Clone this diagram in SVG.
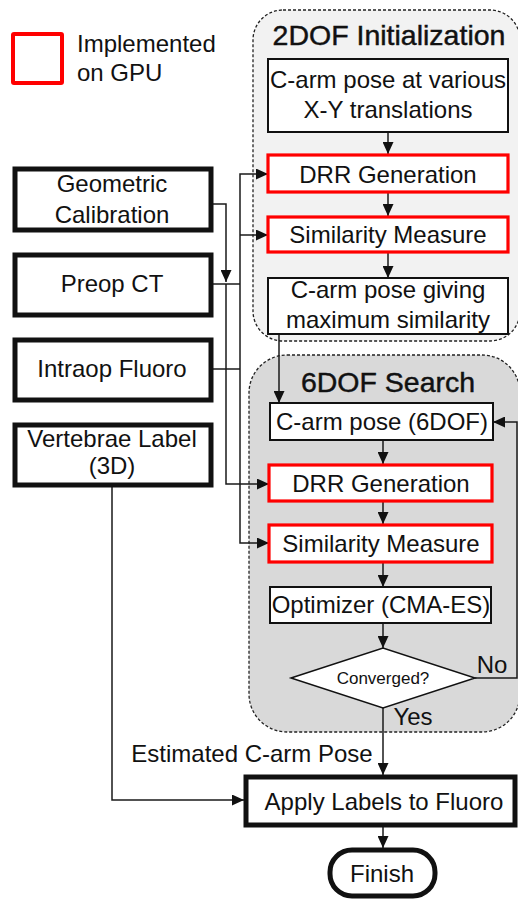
<svg xmlns="http://www.w3.org/2000/svg" width="518" height="900" viewBox="0 0 518 900">
<defs>
<style>
text{font-family:"Liberation Sans",Arial,sans-serif;font-size:24px;fill:#111;text-anchor:middle}
.title{font-size:28.5px;stroke:#111;stroke-width:0.45}
.grp{stroke:#222;stroke-width:1.3;stroke-dasharray:3,2}
.thin{fill:#fff;stroke:#111;stroke-width:2}
.red{fill:#fff;stroke:#ff0000;stroke-width:3.2}
.thick{fill:#fff;stroke:#111;stroke-width:5}
.wire{fill:none;stroke:#1a1a1a;stroke-width:1.5}
</style>
<marker id="ah" markerUnits="userSpaceOnUse" markerWidth="12" markerHeight="11" refX="12" refY="5.5" orient="auto">
<path d="M0,0 L12,5.5 L0,11 z" fill="#111"/>
</marker>
</defs>
<rect width="518" height="900" fill="#fff"/>

<g id="legend">
<rect x="13" y="34" width="49" height="49" fill="#fff" stroke="#ff0000" stroke-width="4" rx="1"/>
<text x="77" y="52" style="text-anchor:start">Implemented</text>
<text x="77" y="81" style="text-anchor:start">on GPU</text>
</g>

<g id="group-2dof">
<rect class="grp" x="253" y="10" width="267" height="331" rx="30" fill="#f2f2f2"/>
<text class="title" x="389" y="45">2DOF Initialization</text>
</g>
<g id="group-6dof">
<rect class="grp" x="249" y="355" width="271" height="377" rx="38" fill="#d9d9d9"/>
<text class="title" x="388" y="392">6DOF Search</text>
</g>

<g id="connectors">
<path class="wire" d="M211,204 H226 V282" marker-end="url(#ah)"/>
<path class="wire" d="M226,284 V484 H269" marker-end="url(#ah)"/>
<path class="wire" d="M211,284 H240"/>
<path class="wire" d="M211,369 H240"/>
<path class="wire" d="M240,284 V174 H268" marker-end="url(#ah)"/>
<path class="wire" d="M240,235 H268" marker-end="url(#ah)"/>
<path class="wire" d="M240,284 V543 H269" marker-end="url(#ah)"/>
<path class="wire" d="M112,485 V800 H244" marker-end="url(#ah)"/>
<path class="wire" d="M388,132 V154" marker-end="url(#ah)"/>
<path class="wire" d="M388,192 V216" marker-end="url(#ah)"/>
<path class="wire" d="M388,252 V278" marker-end="url(#ah)"/>
<path class="wire" d="M279,334 V403" marker-end="url(#ah)"/>
<path class="wire" d="M383,440 V464" marker-end="url(#ah)"/>
<path class="wire" d="M383,501 V524" marker-end="url(#ah)"/>
<path class="wire" d="M383,562 V587" marker-end="url(#ah)"/>
<path class="wire" d="M383,623 V648" marker-end="url(#ah)"/>
<path class="wire" d="M475,678 H517 V422 H493" marker-end="url(#ah)"/>
<path class="wire" d="M383,708 V775" marker-end="url(#ah)"/>
<path class="wire" d="M383,827 V848" marker-end="url(#ah)"/>
<text x="492" y="673">No</text>
<text x="413" y="725">Yes</text>
<text x="252" y="762">Estimated C-arm Pose</text>
</g>

<g id="geometric-calibration">
<rect class="thick" x="15" y="169" width="196" height="61"/>
<text x="112" y="192">Geometric</text>
<text x="112" y="223">Calibration</text>
</g>
<g id="preop-ct">
<rect class="thick" x="15" y="255" width="196" height="60"/>
<text x="112" y="292">Preop CT</text>
</g>
<g id="intraop-fluoro">
<rect class="thick" x="15" y="340" width="196" height="60"/>
<text x="112" y="377">Intraop Fluoro</text>
</g>
<g id="vertebrae-label">
<rect class="thick" x="15" y="425" width="196" height="60"/>
<text x="112" y="447">Vertebrae Label</text>
<text x="112" y="474">(3D)</text>
</g>

<g id="pose-various">
<rect class="thin" x="268" y="59" width="240" height="73"/>
<text x="388" y="88">C-arm pose at various</text>
<text x="388" y="118">X-Y translations</text>
</g>
<g id="drr-2dof">
<rect class="red" x="268" y="155" width="240" height="37"/>
<text x="388" y="183">DRR Generation</text>
</g>
<g id="sim-2dof">
<rect class="red" x="268" y="217" width="240" height="35"/>
<text x="388" y="243">Similarity Measure</text>
</g>
<g id="pose-max">
<rect class="thin" x="268" y="278" width="240" height="56"/>
<text x="388" y="298">C-arm pose giving</text>
<text x="388" y="328">maximum similarity</text>
</g>

<g id="pose-6dof">
<rect class="thin" x="270" y="403" width="223" height="37"/>
<text x="382" y="430">C-arm pose (6DOF)</text>
</g>
<g id="drr-6dof">
<rect class="red" x="269" y="465" width="223" height="36"/>
<text x="381" y="492">DRR Generation</text>
</g>
<g id="sim-6dof">
<rect class="red" x="269" y="525" width="223" height="37"/>
<text x="381" y="552">Similarity Measure</text>
</g>
<g id="optimizer">
<rect class="thin" x="270" y="587" width="221" height="36"/>
<text x="381" y="613">Optimizer (CMA-ES)</text>
</g>
<g id="converged">
<path d="M291,678 L383,648 L475,678 L383,708 z" fill="#fff" stroke="#111" stroke-width="1.5"/>
<text x="383" y="684" style="font-size:17px">Converged?</text>
</g>

<g id="apply-labels">
<rect class="thick" x="246" y="777" width="269" height="48"/>
<text x="384" y="810">Apply Labels to Fluoro</text>
</g>
<g id="finish">
<rect class="thick" x="330" y="850" width="105" height="46" rx="22"/>
<text x="382" y="882">Finish</text>
</g>
</svg>
